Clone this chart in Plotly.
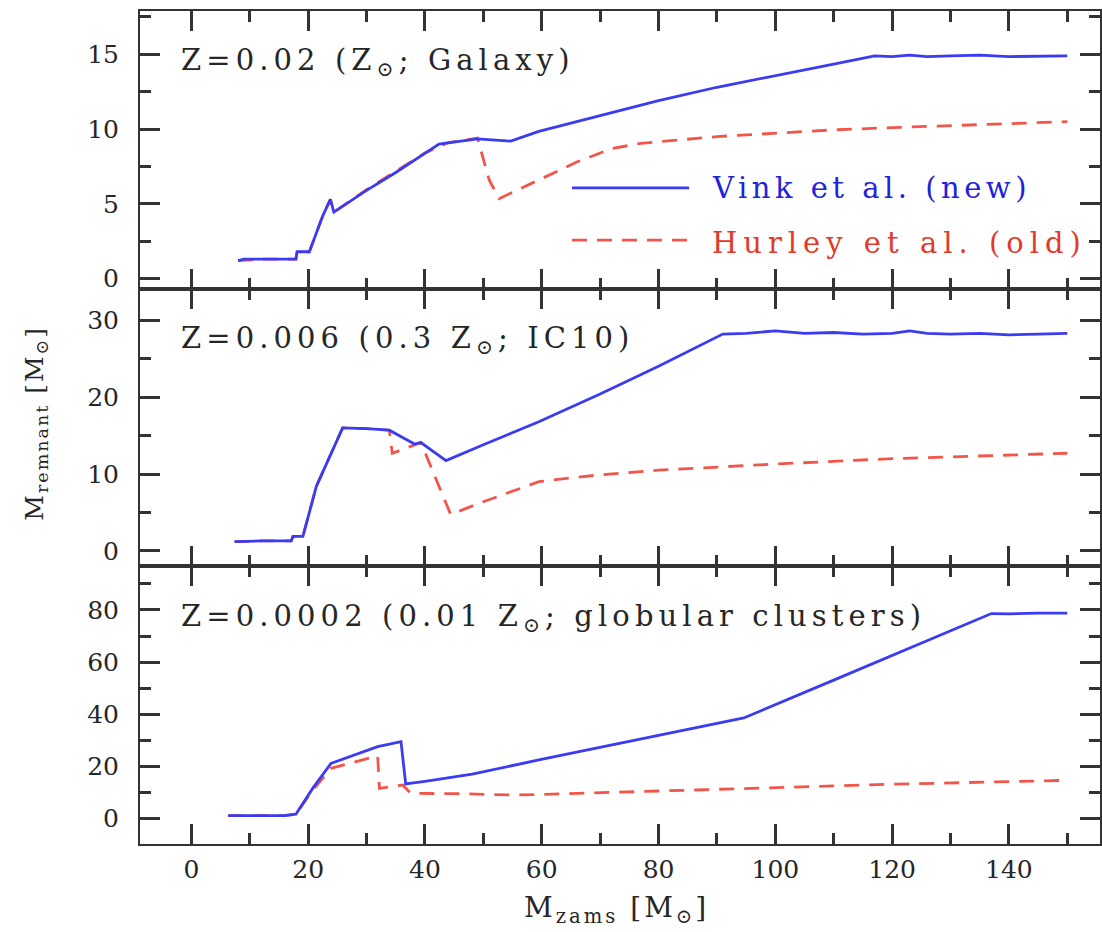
import plotly.graph_objects as go
from plotly.subplots import make_subplots

# ---------------- data ----------------
# Panel 1: Z = 0.02
m1_vink = [8.0, 9, 12, 15, 17.9, 18.1, 20.2, 22.5, 23.8, 24.4, 30, 35, 42.4, 49, 54.7, 59.5,
           70, 80, 90, 100, 110, 117, 120, 123, 126, 130, 135, 140, 145, 150]
v1_vink = [1.2, 1.3, 1.3, 1.3, 1.3, 1.8, 1.8, 4.2, 5.3, 4.45, 5.9, 7.1, 9.0, 9.35, 9.2, 9.85,
           10.9, 11.9, 12.8, 13.6, 14.35, 14.9, 14.85, 14.95, 14.85, 14.9, 14.95, 14.85, 14.9, 14.9]
m1_hur = [8.0, 12, 17.9, 18.1, 20.2, 22.5, 23.8, 24.4, 30, 35, 40, 44, 49, 51, 52.7, 59.5,
          66, 72, 77, 90, 100, 110, 120, 130, 140, 150]
v1_hur = [1.2, 1.3, 1.3, 1.8, 1.8, 4.2, 5.3, 4.45, 5.95, 7.2, 8.4, 9.1, 9.4, 6.6, 5.35, 6.6,
          7.8, 8.7, 9.05, 9.5, 9.75, 9.95, 10.1, 10.25, 10.4, 10.5]

# Panel 2: Z = 0.006
m2_vink = [7.4, 12, 17.1, 17.4, 19.1, 21.4, 25.9, 30, 33.9, 38.2, 39.3, 43.6, 50, 59.5, 70, 80,
           91, 95, 100, 105, 110, 115, 120, 123, 126, 130, 135, 140, 145, 150]
v2_vink = [1.2, 1.3, 1.3, 1.9, 1.9, 8.4, 16.0, 15.9, 15.7, 13.9, 14.1, 11.75, 13.8, 16.8, 20.4, 24.0,
           28.2, 28.3, 28.6, 28.3, 28.4, 28.2, 28.3, 28.6, 28.3, 28.2, 28.3, 28.1, 28.2, 28.3]
m2_hur = [7.4, 12, 17.1, 17.4, 19.1, 21.4, 25.9, 30, 33.9, 34.4, 39.3, 44.4, 50, 55, 59.5, 65,
          70, 80, 100, 120, 150]
v2_hur = [1.2, 1.3, 1.3, 1.9, 1.9, 8.4, 16.0, 15.9, 15.7, 12.7, 14.1, 4.75, 6.4, 7.8, 9.0, 9.5,
          9.9, 10.5, 11.3, 12.0, 12.7]

# Panel 3: Z = 0.0002
m3_vink = [6.3, 10, 15.9, 17.9, 20.8, 23.9, 28, 31.9, 35.9, 36.7, 40, 48.1, 59.5, 70, 80, 94.6,
           110, 125, 137, 140, 145, 150]
v3_vink = [1.2, 1.2, 1.2, 1.7, 11.7, 21.2, 24.5, 27.6, 29.5, 13.3, 14.3, 17.1, 22.5, 27.3, 32.0, 38.6,
           53.1, 67.3, 78.6, 78.5, 78.8, 78.8]
m3_hur = [6.3, 10, 15.9, 17.9, 20.8, 23.9, 31.9, 32.2, 36.2, 37.6, 45, 55, 60, 80, 100, 120, 150]
v3_hur = [1.2, 1.2, 1.2, 1.7, 11.0, 19.3, 24.05, 11.65, 12.9, 9.7, 9.6, 9.1, 9.3, 10.6, 11.9, 13.2, 14.7]

panel_labels = ["Z=0.02 (Z<sub>⊙</sub>; Galaxy)",
                "Z=0.006 (0.3 Z<sub>⊙</sub>; IC10)",
                "Z=0.0002 (0.01 Z<sub>⊙</sub>; globular clusters)"]
series_names = ["Vink et al. (new)", "Hurley et al. (old)"]
y_ranges = [[-0.67, 17.9], [-2.0, 34.1], [-9.7, 96.7]]
y_dticks = [5, 10, 20]
x_range = [-8.8, 155.6]

# ---------------- figure ----------------
FONT = "DejaVu Serif"
AX = "#333333"
TXT = "#262626"
BLUE = "#3b3bf2"
RED = "#f2564a"


def spaced(txt, px):
    return '<span style="letter-spacing:%.1fpx">%s</span>' % (px, txt)


fig = make_subplots(rows=3, cols=1, shared_xaxes=True, vertical_spacing=0)

data = [(m1_vink, v1_vink, m1_hur, v1_hur),
        (m2_vink, v2_vink, m2_hur, v2_hur),
        (m3_vink, v3_vink, m3_hur, v3_hur)]

for i, (mv, vv, mh, vh) in enumerate(data, start=1):
    fig.add_trace(go.Scatter(x=mh, y=vh, mode="lines", name=series_names[1],
                             line=dict(color=RED, width=2.8, dash="15px,10px"),
                             showlegend=False), row=i, col=1)
    fig.add_trace(go.Scatter(x=mv, y=vv, mode="lines", name=series_names[0],
                             line=dict(color=BLUE, width=2.8),
                             showlegend=False), row=i, col=1)

common = dict(showline=True, linecolor=AX, linewidth=2, mirror="ticks",
              ticks="inside", ticklen=20, tickwidth=2.5, tickcolor=AX,
              showgrid=False, zeroline=False,
              tickfont=dict(family=FONT, size=25, color=TXT))

for i in range(1, 4):
    fig.update_xaxes(range=x_range, dtick=20, tick0=0,
                     minor=dict(ticks="inside", ticklen=11, dtick=10, tick0=0,
                                tickwidth=2.5, tickcolor=AX, showgrid=False),
                     ticklabelstandoff=2,
                     **common, row=i, col=1)
    fig.update_yaxes(range=y_ranges[i - 1], dtick=y_dticks[i - 1], tick0=0,
                     minor=dict(ticks="inside", ticklen=11, dtick=y_dticks[i - 1] / 2, tick0=0,
                                tickwidth=2.5, tickcolor=AX, showgrid=False),
                     ticklabelstandoff=14,
                     **common, row=i, col=1)

# panel labels
ydoms = ["y domain", "y2 domain", "y3 domain"]
xdoms = ["x domain", "x2 domain", "x3 domain"]
for i, txt in enumerate(panel_labels):
    fig.add_annotation(text=spaced(txt, 5.1), xref=xdoms[i], yref=ydoms[i], x=0.041, y=0.815,
                       xanchor="left", yanchor="middle", showarrow=False,
                       font=dict(family=FONT, size=29, color=TXT))

# legend (drawn in panel 1)
fig.add_shape(type="line", xref="x domain", yref="y domain", x0=0.45, x1=0.572, y0=0.363, y1=0.363,
              line=dict(color=BLUE, width=2.6))
fig.add_shape(type="line", xref="x domain", yref="y domain", x0=0.45, x1=0.572, y0=0.175, y1=0.175,
              line=dict(color=RED, width=2.6, dash="15px,10px"))
fig.add_annotation(text=spaced(series_names[0], 4.5), xref="x domain", yref="y domain", x=0.594, y=0.363,
                   xanchor="left", yanchor="middle", showarrow=False,
                   font=dict(family=FONT, size=29, color="#2222d8"))
fig.add_annotation(text=spaced(series_names[1], 6), xref="x domain", yref="y domain", x=0.594, y=0.165,
                   xanchor="left", yanchor="middle", showarrow=False,
                   font=dict(family=FONT, size=29, color="#e23a2a"))

# axis titles
fig.add_annotation(text=spaced("M<sub>zams</sub> [M<sub>⊙</sub>]", 3), xref="paper", yref="paper",
                   x=0.496, y=-0.079, xanchor="center", yanchor="middle", showarrow=False,
                   font=dict(family=FONT, size=28, color=TXT))
fig.add_annotation(text=spaced("M<sub>remnant</sub> [M<sub>⊙</sub>]", 2), xref="paper", yref="paper",
                   x=-0.108, y=0.505, xanchor="center", yanchor="middle", showarrow=False,
                   textangle=-90, font=dict(family=FONT, size=25, color=TXT))

fig.update_layout(width=1102, height=932,
                  margin=dict(l=140, r=0, t=11, b=88),
                  paper_bgcolor="white", plot_bgcolor="white",
                  showlegend=False)

fig.write_html("out.html")
